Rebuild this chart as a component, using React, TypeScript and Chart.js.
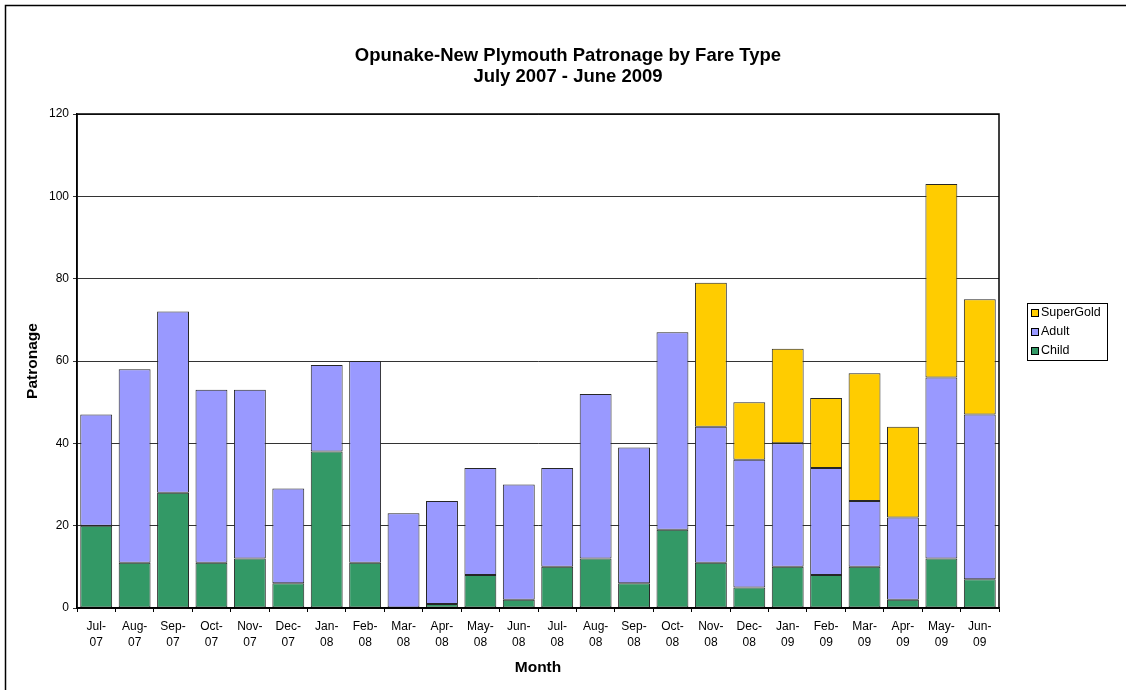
import React, { useEffect, useRef } from 'react';
import { Chart, registerables } from 'chart.js';

Chart.register(...registerables);

const months: string[][] = [
  ['Jul-', '07'], ['Aug-', '07'], ['Sep-', '07'], ['Oct-', '07'], ['Nov-', '07'], ['Dec-', '07'],
  ['Jan-', '08'], ['Feb-', '08'], ['Mar-', '08'], ['Apr-', '08'], ['May-', '08'], ['Jun-', '08'],
  ['Jul-', '08'], ['Aug-', '08'], ['Sep-', '08'], ['Oct-', '08'], ['Nov-', '08'], ['Dec-', '08'],
  ['Jan-', '09'], ['Feb-', '09'], ['Mar-', '09'], ['Apr-', '09'], ['May-', '09'], ['Jun-', '09'],
];

const child = [20, 11, 28, 11, 12, 6, 38, 11, 0, 1, 8, 2, 10, 12, 6, 19, 11, 5, 10, 8, 10, 2, 12, 7];
const adult = [27, 47, 44, 42, 41, 23, 21, 49, 23, 25, 26, 28, 24, 40, 33, 48, 33, 31, 30, 26, 16, 20, 44, 40];
const superGold = [0, 0, 0, 0, 0, 0, 0, 0, 0, 0, 0, 0, 0, 0, 0, 0, 35, 14, 23, 17, 31, 22, 47, 28];

const seriesNames = ['Child', 'Adult', 'SuperGold'];
const seriesColors = ['#339966', '#9999FF', '#FFCC00'];

const titleLines = ['Opunake-New Plymouth Patronage by Fare Type', 'July 2007 - June 2009'];
const yMin = 0;
const yMax = 120;
const yStep = 20;

const FONT = '"Liberation Sans", Arial, sans-serif';

const decorPlugin = {
  id: 'decor',
  beforeDraw(chart: any) {
    const ctx = chart.ctx;
    ctx.save();
    ctx.fillStyle = '#ffffff';
    ctx.fillRect(0, 0, chart.width, chart.height);
    ctx.strokeStyle = '#000';
    ctx.lineWidth = 1.5;
    ctx.strokeRect(5.5, 5.5, 1400, 1400);
    // title
    ctx.fillStyle = '#000';
    ctx.font = 'bold 18.5px ' + FONT;
    ctx.textAlign = 'center';
    ctx.textBaseline = 'middle';
    ctx.fillText(titleLines[0], 568, 56);
    ctx.fillText(titleLines[1], 568, 77);
    ctx.restore();
  },
  afterDatasetsDraw(chart: any) {
    const ctx = chart.ctx;
    const a = chart.chartArea;
    ctx.save();
    ctx.strokeStyle = '#000';
    ctx.lineWidth = 1.5;
    ctx.strokeRect(a.left, a.top, a.right - a.left, a.bottom - a.top);
    ctx.restore();
  },
  afterDraw(chart: any) {
    const ctx = chart.ctx;
    ctx.save();
    // legend box
    ctx.strokeStyle = '#000';
    ctx.lineWidth = 1;
    ctx.strokeRect(1027.5, 303.5, 80, 57);
    ctx.font = '12.5px ' + FONT;
    ctx.textAlign = 'left';
    ctx.textBaseline = 'middle';
    const ds = chart.data.datasets;
    const order = [2, 1, 0];
    order.forEach((di, i) => {
      const y = 313 + i * 19;
      ctx.fillStyle = ds[di].backgroundColor;
      ctx.fillRect(1031, Math.round(y - 4), 7, 7);
      ctx.strokeStyle = '#000';
      ctx.strokeRect(1031.5, Math.round(y - 4) + 0.5, 7, 7);
      ctx.fillStyle = '#000';
      ctx.fillText(ds[di].label, 1041, y);
    });
    ctx.restore();
  },
};

export default function App() {
  const ref = useRef<HTMLCanvasElement>(null);

  useEffect(() => {
    document.body.style.margin = '0';
    const seriesData = [child, adult, superGold];
    const chart = new Chart(ref.current as HTMLCanvasElement, {
      type: 'bar',
      data: {
        labels: months,
        datasets: seriesData.map((d, i) => ({
          label: seriesNames[i],
          data: d,
          backgroundColor: seriesColors[i],
          borderColor: '#262626',
          borderWidth: (c: any) => (c.raw === 0 ? 0 : 1),
          borderSkipped: false,
          barPercentage: 0.83,
          categoryPercentage: 1,
        })),
      },
      options: {
        animation: false,
        responsive: false,
        devicePixelRatio: 1,
        layout: { padding: { top: 114, right: 127, left: 0, bottom: 0 } },
        plugins: {
          legend: { display: false },
          title: { display: false },
          tooltip: { enabled: false },
        },
        scales: {
          x: {
            stacked: true,
            afterFit: (s: any) => { s.height = 82; },
            grid: {
              offset: true,
              drawOnChartArea: false,
              drawTicks: true,
              tickLength: 4,
              color: '#000',
            },
            border: { display: true, color: '#000', width: 1.5 },
            ticks: {
              autoSkip: false,
              maxRotation: 0,
              minRotation: 0,
              padding: 7,
              color: '#000',
              font: { family: FONT, size: 12, lineHeight: 1.3 },
            },
            title: {
              display: true,
              text: 'Month',
              color: '#000',
              font: { family: FONT, size: 15.5, weight: 'bold' },
              padding: { top: 0, bottom: 13 },
            },
          },
          y: {
            stacked: true,
            min: yMin,
            max: yMax,
            afterFit: (s: any) => { s.width = 77; },
            grid: {
              color: '#333',
              lineWidth: 1,
              drawTicks: true,
              tickLength: 4,
            },
            border: { display: true, color: '#000', width: 1.5 },
            ticks: {
              stepSize: yStep,
              padding: 4,
              color: '#000',
              font: { family: FONT, size: 12 },
            },
            title: {
              display: true,
              text: 'Patronage',
              color: '#000',
              font: { family: FONT, size: 15.5, weight: 'bold' },
              padding: { top: 23, bottom: 0 },
            },
          },
        },
      },
      plugins: [decorPlugin],
    } as any);
    return () => chart.destroy();
  }, []);

  return (
    <div style={{ position: 'absolute', left: 0, top: 0, width: 1126, height: 690 }}>
      <canvas ref={ref} width={1126} height={690} />
    </div>
  );
}
